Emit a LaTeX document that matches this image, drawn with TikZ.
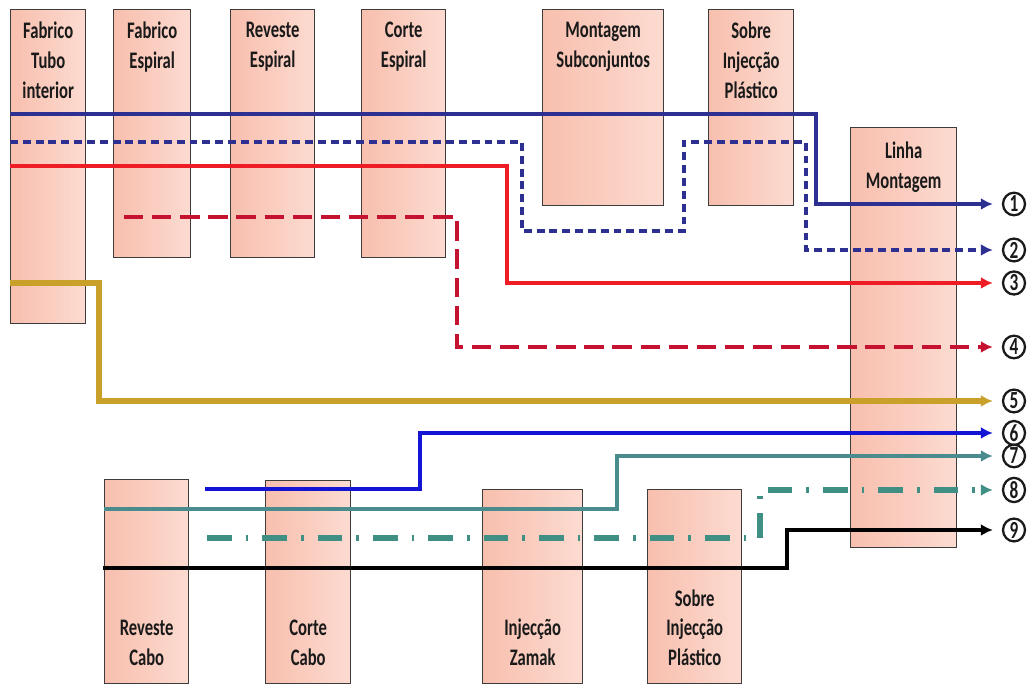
\documentclass[tikz,border=0pt]{standalone}
\usepackage{fontspec}
\setmainfont{Carlito}[FakeStretch=0.7]
\usetikzlibrary{arrows.meta,positioning,shapes.geometric}
\definecolor{Ink}{HTML}{1A1A1A}
\definecolor{Frame}{HTML}{3C3C3C}
\definecolor{SalmonL}{HTML}{F8BFAE}
\definecolor{SalmonR}{HTML}{FCDBD1}
\definecolor{Navy}{HTML}{2D3091}
\definecolor{Red}{HTML}{EE1C25}
\definecolor{Wine}{HTML}{C41230}
\definecolor{Gold}{HTML}{C8A02A}
\definecolor{Blue}{HTML}{1414D4}
\definecolor{Teal}{HTML}{4A8C8E}
\definecolor{Sea}{HTML}{3F8F85}
\tikzset{
 every node/.style={font=\fontsize{13.5pt}{17pt}\selectfont\bfseries,text=Ink},
 stage/.style={draw=Frame,line width=.8pt,left color=SalmonL,right color=SalmonR,anchor=north west,inner sep=0pt},
 txt/.style={align=center,inner sep=0pt},
 num/.style={ellipse,draw=Ink,line width=1.3pt,minimum width=.44cm,minimum height=.45cm,inner sep=0pt,
   font=\fontsize{14pt}{14pt}\selectfont\bfseries},
 route/.style={-{Latex[length=2.4mm,width=2.4mm]},line width=2.3pt,shorten >=1.8mm},
 }

\begin{document}
\begin{tikzpicture}[x=.02cm,y=-.02cm]
 \useasboundingbox (0,0) rectangle (1029,688);
 % workstations
 \foreach \nm/\x/\y/\w/\h in {tubo/10/9/1.50/6.28,fesp/113/9/1.54/4.96,resp/230/9/1.68/4.96,
   cesp/361/9/1.68/4.96,msub/542/9/2.42/3.92,sinj/708/9/1.70/3.92,linha/850/127/2.12/8.40,
   rcabo/104/479/1.68/4.08,ccabo/265/480/1.70/4.06,zamak/482/489/2.00/3.88,sbot/647/489/1.88/3.88}
  \node[stage,minimum width=\w cm,minimum height=\h cm] (\nm) at (\x,\y) {};
 \node[txt,below=.26cm of tubo.north] (tubo-t) {Fabrico\\Tubo\\interior};
 \node[txt,below=.26cm of fesp.north] (fesp-t) {Fabrico\\Espiral};
 \node[txt,below=.26cm of resp.north] (resp-t) {Reveste\\Espiral};
 \node[txt,below=.26cm of cesp.north] (cesp-t) {Corte\\Espiral};
 \node[txt,below=.26cm of msub.north] (msub-t) {Montagem\\Subconjuntos};
 \node[txt,below=.26cm of sinj.north] (sinj-t) {Sobre\\Injecção\\Plástico};
 \node[txt,below=.30cm of linha.north] (linha-t) {Linha\\Montagem};
 \node[txt,above=.36cm of rcabo.south] (rcabo-t) {Reveste\\Cabo};
 \node[txt,above=.36cm of ccabo.south] (ccabo-t) {Corte\\Cabo};
 \node[txt,above=.36cm of zamak.south] (zamak-t) {Injecção\\Zamak};
 \node[txt,above=.36cm of sbot.south] (sbot-t) {Sobre\\Injecção\\Plástico};
 % flows
 \foreach \i/\x/\y in {1/10/114,2/10/142,3/10/166,4/124/217,5/10/283,6/205/489,7/104/509,8/207/538,9/103/568}
  \coordinate (a\i) at (\x,\y);
 \foreach \i/\y in {1/204,2/250,3/283,4/347,5/401,6/433,7/456,8/490,9/530}
  \node[num] (n\i) at (1014,\y) {\i};
 \draw[route,Navy] (a1) -| (816,204) -- (n1);
 \draw[route,Navy,dash pattern=on 4.5pt off 2.8pt] (a2) -| (522,231) -| (684,142) -| (806,250) -- (n2);
 \draw[route,Red] (a3) -| (507,283) -- (n3);
 \draw[route,Wine,line width=1.8pt,dash pattern=on 11pt off 5pt] (a4) -| (457,347) -- (n4);
 \draw[route,Gold,line width=2.9pt] (a5) -| (99,401) -- (n5);
 \draw[route,Blue,line width=2.1pt] (a6) -| (420,433) -- (n6);
 \draw[route,Teal,line width=2.5pt] (a7) -| (617,456) -- (n7);
 \draw[route,Sea,line width=2.9pt,dash pattern=on 14pt off 8pt on 1.5pt off 8pt] (a8) -| (760,490) -- (n8);
 \draw[route,black,line width=2.5pt] (a9) -| (787,530) -- (n9);
\end{tikzpicture}
\end{document}
